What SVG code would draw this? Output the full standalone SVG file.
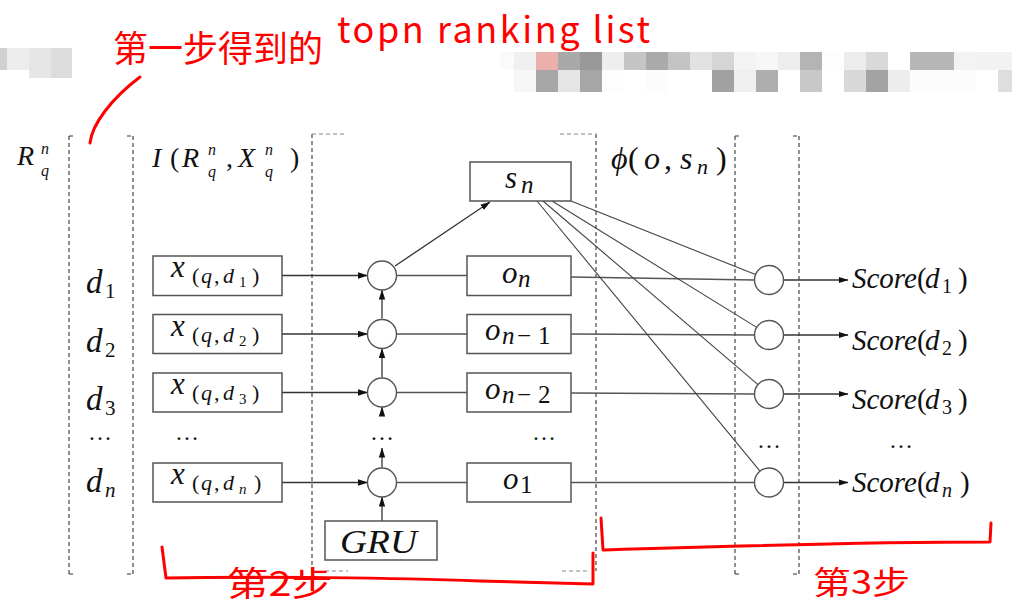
<svg xmlns="http://www.w3.org/2000/svg" width="1012" height="604" viewBox="0 0 1012 604">
<defs>
<marker id="ah" markerWidth="10" markerHeight="8" refX="9.5" refY="4" orient="auto" markerUnits="userSpaceOnUse"><path d="M0,0.8 L10,4 L0,7.2 z" fill="#111"/></marker>
<style>
.dash{stroke:#333;stroke-width:1.1;stroke-dasharray:4 3;fill:none}
.tick{stroke:#888;stroke-width:1.2;stroke-dasharray:4 3;fill:none}
.box{fill:#fff;stroke:#555;stroke-width:1.5}
.cir{fill:#fff;stroke:#555;stroke-width:1.4}
.ln{stroke:#555;stroke-width:1.4;fill:none}
.thin{stroke:#444;stroke-width:1.1;fill:none}
.arr{stroke:#333;stroke-width:1.3;fill:none;marker-end:url(#ah)}
.mi{font-family:"Liberation Serif","DejaVu Serif",serif;font-style:italic;fill:#111}
.mr{font-family:"Liberation Serif","DejaVu Serif",serif;font-style:normal;fill:#111}
.up{font-style:normal}
.red{stroke:#f00;stroke-width:3;fill:none;stroke-linecap:round;stroke-linejoin:round}
.hand{font-family:"Noto Sans CJK SC","Noto Sans",sans-serif;fill:#f00}
</style>
</defs>
<rect width="1012" height="604" fill="#fff"/>

<g id="mosaic">
<rect x="0" y="48" width="7" height="22" fill="#d0d0d0"/>
<rect x="7" y="48" width="22" height="22" fill="#ededed"/>
<rect x="29" y="48" width="22" height="30" fill="#e6e6e6"/>
<rect x="51" y="48" width="21" height="30" fill="#dcdcdc"/>
<rect x="500" y="52" width="14" height="18" fill="#fafafa"/>
<rect x="514" y="52" width="22" height="18" fill="#f0f0f0"/>
<rect x="536" y="52" width="22" height="18" fill="#ecb0ac"/>
<rect x="558" y="52" width="22" height="18" fill="#a9a9a9"/>
<rect x="580" y="52" width="22" height="18" fill="#999999"/>
<rect x="602" y="52" width="22" height="18" fill="#eeeeee"/>
<rect x="624" y="52" width="22" height="18" fill="#c5c5c5"/>
<rect x="646" y="52" width="22" height="18" fill="#aaaaaa"/>
<rect x="668" y="52" width="22" height="18" fill="#c4c4c4"/>
<rect x="690" y="52" width="22" height="18" fill="#e2e2e2"/>
<rect x="712" y="52" width="22" height="18" fill="#d5d5d5"/>
<rect x="734" y="52" width="22" height="18" fill="#f3f3f3"/>
<rect x="756" y="52" width="22" height="18" fill="#f7f7f7"/>
<rect x="778" y="52" width="22" height="18" fill="#eeeeee"/>
<rect x="800" y="52" width="22" height="18" fill="#b4b4b4"/>
<rect x="822" y="52" width="22" height="18" fill="#fdfdfd"/>
<rect x="844" y="52" width="22" height="18" fill="#ececec"/>
<rect x="866" y="52" width="22" height="18" fill="#d9d9d9"/>
<rect x="910" y="52" width="22" height="18" fill="#b7b7b7"/>
<rect x="932" y="52" width="22" height="18" fill="#b7b7b7"/>
<rect x="954" y="52" width="22" height="18" fill="#f3f3f3"/>
<rect x="976" y="52" width="22" height="18" fill="#f2f2f2"/>
<rect x="998" y="52" width="14" height="18" fill="#f2f2f2"/>
<rect x="514" y="70" width="22" height="22" fill="#f7f7f7"/>
<rect x="536" y="70" width="22" height="22" fill="#a6a6a6"/>
<rect x="558" y="70" width="22" height="22" fill="#e5e5e5"/>
<rect x="580" y="70" width="22" height="22" fill="#a6a6a6"/>
<rect x="602" y="70" width="22" height="22" fill="#fdfdfd"/>
<rect x="646" y="70" width="22" height="22" fill="#fcfcfc"/>
<rect x="712" y="70" width="22" height="22" fill="#a2a2a2"/>
<rect x="734" y="70" width="22" height="22" fill="#efefef"/>
<rect x="756" y="70" width="22" height="22" fill="#aeaeae"/>
<rect x="800" y="70" width="22" height="22" fill="#c8c8c8"/>
<rect x="844" y="70" width="22" height="22" fill="#d8d8d8"/>
<rect x="866" y="70" width="22" height="22" fill="#a3a3a3"/>
<rect x="888" y="70" width="22" height="22" fill="#ededed"/>
<rect x="910" y="70" width="66" height="22" fill="#fcfcfc"/>
<rect x="998" y="70" width="14" height="22" fill="#dedede"/>
</g>

<g id="frames">
<path class="dash" d="M69,136 V574 M133,136 V574 M735,136 V574 M799,136 V574 M312,134 V571 M596,134 V571"/>
<path class="dash" d="M69,136 H75 M127,136 H133 M69,574 H75 M127,574 H133 M735,136 H741 M793,136 H799 M735,574 H741 M793,574 H799"/>
<path class="tick" d="M312,134 H347 M560,134 H596 M325,571 H348 M562,571 H590"/>
</g>

<g id="headers">
<text id="label-R" class="mi" font-size="28" y="165"><tspan x="17">R</tspan><tspan x="41" y="154" font-size="16">n</tspan><tspan x="41" y="176" font-size="16">q</tspan></text>
<text id="label-I" class="mi" font-size="28" y="167"><tspan x="152">I</tspan><tspan x="170" class="up">(</tspan><tspan x="182">R</tspan><tspan x="208" y="155" font-size="16">n</tspan><tspan x="208" y="177" font-size="16">q</tspan><tspan x="226" y="167" class="up">,</tspan><tspan x="238">X</tspan><tspan x="265" y="155" font-size="16">n</tspan><tspan x="265" y="177" font-size="16">q</tspan><tspan x="290" y="167" class="up">)</tspan></text>
<text id="label-phi" class="mi" font-size="32" y="169"><tspan x="611">ϕ</tspan><tspan x="628" class="up">(</tspan><tspan x="644">o</tspan><tspan x="664" class="up">,</tspan><tspan x="680">s</tspan><tspan x="697" y="174" font-size="22">n</tspan><tspan x="716" y="169" class="up">)</tspan></text>
</g>

<g id="doc-labels">
<text id="d1" class="mi" font-size="33" y="293"><tspan x="86">d</tspan><tspan x="105" y="298" font-size="21" class="up">1</tspan></text>
<text id="d2" class="mi" font-size="33" y="352"><tspan x="86">d</tspan><tspan x="105" y="357" font-size="21" class="up">2</tspan></text>
<text id="d3" class="mi" font-size="33" y="410"><tspan x="86">d</tspan><tspan x="105" y="415" font-size="21" class="up">3</tspan></text>
<text class="mr" x="88" y="440" font-size="24">…</text>
<text id="dn" class="mi" font-size="33" y="492"><tspan x="86">d</tspan><tspan x="105" y="497" font-size="21">n</tspan></text>
</g>

<g id="connectors">
<line class="arr" x1="282" y1="275.5" x2="367.5" y2="275.5"/>
<line class="arr" x1="282" y1="334" x2="367.5" y2="334"/>
<line class="arr" x1="282" y1="392.5" x2="367.5" y2="392.5"/>
<line class="arr" x1="282" y1="482.5" x2="367.5" y2="482.5"/>
<line class="arr" x1="382" y1="318.5" x2="382" y2="290"/>
<line class="arr" x1="382" y1="377.5" x2="382" y2="348.5"/>
<line class="arr" x1="382" y1="415" x2="382" y2="407"/>
<line class="arr" x1="382" y1="467.5" x2="382" y2="448"/>
<line class="arr" x1="382" y1="521" x2="382" y2="497"/>
<line class="arr" x1="395" y1="266" x2="490" y2="202"/>
<line class="ln" x1="396.5" y1="275.5" x2="467" y2="275.5"/>
<line class="ln" x1="396.5" y1="334" x2="467" y2="334"/>
<line class="ln" x1="396.5" y1="392.5" x2="467" y2="392.5"/>
<line class="ln" x1="396.5" y1="482.5" x2="467" y2="482.5"/>
<line class="ln" x1="571" y1="277" x2="754.5" y2="280"/>
<line class="ln" x1="571" y1="334" x2="754.5" y2="335"/>
<line class="ln" x1="571" y1="393" x2="754.5" y2="394"/>
<line class="ln" x1="571" y1="482.5" x2="754.5" y2="482.5"/>
<line class="thin" x1="571" y1="201" x2="755.5" y2="274.6"/>
<line class="thin" x1="552" y1="201" x2="756.7" y2="327.4"/>
<line class="thin" x1="543" y1="201" x2="758" y2="384.6"/>
<line class="thin" x1="537" y1="201" x2="759.8" y2="470.8"/>
<line class="arr" x1="783.5" y1="280" x2="848" y2="280"/>
<line class="arr" x1="783.5" y1="335" x2="848" y2="335"/>
<line class="arr" x1="783.5" y1="394" x2="848" y2="394"/>
<line class="arr" x1="783.5" y1="482.5" x2="848" y2="482.5"/>
</g>

<g id="x-boxes">
<g id="x1"><rect class="box" x="153" y="256" width="129" height="39.5"/>
<text class="mi" font-size="22" y="283"><tspan x="171" y="277" font-size="31">x</tspan><tspan x="192" y="283" class="up">(</tspan><tspan x="201">q</tspan><tspan x="214" class="up">,</tspan><tspan x="223">d</tspan><tspan x="239" y="287" font-size="15" class="up">1</tspan><tspan x="252" y="283" class="up">)</tspan></text></g>
<g id="x2"><rect class="box" x="153" y="314.5" width="129" height="39"/>
<text class="mi" font-size="22" y="341.5"><tspan x="171" y="335.5" font-size="31">x</tspan><tspan x="192" y="341.5" class="up">(</tspan><tspan x="201">q</tspan><tspan x="214" class="up">,</tspan><tspan x="223">d</tspan><tspan x="239" y="345.5" font-size="15" class="up">2</tspan><tspan x="252" y="341.5" class="up">)</tspan></text></g>
<g id="x3"><rect class="box" x="153" y="373" width="129" height="39"/>
<text class="mi" font-size="22" y="400"><tspan x="171" y="394" font-size="31">x</tspan><tspan x="192" y="400" class="up">(</tspan><tspan x="201">q</tspan><tspan x="214" class="up">,</tspan><tspan x="223">d</tspan><tspan x="239" y="404" font-size="15" class="up">3</tspan><tspan x="252" y="400" class="up">)</tspan></text></g>
<text class="mr" x="175" y="440" font-size="24">…</text>
<g id="xn"><rect class="box" x="153" y="463" width="129" height="39"/>
<text class="mi" font-size="22" y="490"><tspan x="171" y="484" font-size="31">x</tspan><tspan x="192" y="490" class="up">(</tspan><tspan x="201">q</tspan><tspan x="214" class="up">,</tspan><tspan x="223">d</tspan><tspan x="239" y="494" font-size="15">n</tspan><tspan x="254" y="490" class="up">)</tspan></text></g>
</g>

<g id="gru-cells">
<circle id="c1" class="cir" cx="382" cy="275.5" r="14.5"/>
<circle id="c2" class="cir" cx="382" cy="334" r="14.5"/>
<circle id="c3" class="cir" cx="382" cy="392.5" r="14.5"/>
<text class="mr" x="370" y="440" font-size="24">…</text>
<circle id="cn" class="cir" cx="382" cy="482.5" r="14.5"/>
<g id="gru"><rect class="box" x="325" y="521" width="112" height="39"/>
<text class="mi" x="340" y="553" font-size="34" textLength="77" lengthAdjust="spacingAndGlyphs">GRU</text></g>
</g>

<g id="sn"><rect class="box" x="470" y="162" width="101" height="39"/>
<text class="mi" font-size="31" y="188"><tspan x="505">s</tspan><tspan x="521" y="193" font-size="25">n</tspan></text></g>

<g id="o-boxes">
<g id="on"><rect class="box" x="467" y="256" width="104" height="39.5"/>
<text class="mi" font-size="31" y="283"><tspan x="502">o</tspan><tspan x="518" y="287" font-size="25">n</tspan></text></g>
<g id="on1"><rect class="box" x="467" y="314.5" width="104" height="39"/>
<text class="mi" font-size="31" y="340"><tspan x="485">o</tspan><tspan x="502" y="344" font-size="25">n</tspan><tspan x="517" font-size="25" class="up">−</tspan><tspan x="538" font-size="25" class="up">1</tspan></text></g>
<g id="on2"><rect class="box" x="467" y="373" width="104" height="39"/>
<text class="mi" font-size="31" y="398.5"><tspan x="485">o</tspan><tspan x="502" y="402.5" font-size="25">n</tspan><tspan x="517" font-size="25" class="up">−</tspan><tspan x="538" font-size="25" class="up">2</tspan></text></g>
<text class="mr" x="532" y="440" font-size="24">…</text>
<g id="o1"><rect class="box" x="467" y="463" width="104" height="39"/>
<text class="mi" font-size="31" y="489"><tspan x="503">o</tspan><tspan x="520" y="493" font-size="25" class="up">1</tspan></text></g>
</g>

<g id="score-cells">
<circle id="r1" class="cir" cx="769" cy="280" r="14.5"/>
<circle id="r2" class="cir" cx="769" cy="335" r="14.5"/>
<circle id="r3" class="cir" cx="769" cy="394" r="14.5"/>
<text class="mr" x="757" y="448" font-size="24">…</text>
<circle id="rn" class="cir" cx="769" cy="482.5" r="14.5"/>
</g>

<g id="scores">
<text id="s1" class="mi" font-size="29" y="288"><tspan x="852">Score</tspan><tspan x="917" class="up">(</tspan><tspan x="925">d</tspan><tspan x="942" y="293" font-size="20" class="up">1</tspan><tspan x="958" y="288" class="up">)</tspan></text>
<text id="s2" class="mi" font-size="29" y="350"><tspan x="852">Score</tspan><tspan x="917" class="up">(</tspan><tspan x="925">d</tspan><tspan x="942" y="355" font-size="20" class="up">2</tspan><tspan x="958" y="350" class="up">)</tspan></text>
<text id="s3" class="mi" font-size="29" y="409"><tspan x="852">Score</tspan><tspan x="917" class="up">(</tspan><tspan x="925">d</tspan><tspan x="942" y="414" font-size="20" class="up">3</tspan><tspan x="958" y="409" class="up">)</tspan></text>
<text class="mr" x="889" y="448" font-size="24">…</text>
<text id="sN" class="mi" font-size="29" y="492"><tspan x="852">Score</tspan><tspan x="917" class="up">(</tspan><tspan x="925">d</tspan><tspan x="942" y="497" font-size="20">n</tspan><tspan x="960" y="492" class="up">)</tspan></text>
</g>

<g id="annotations">
<text class="hand" x="113" y="62" font-size="36" textLength="210" lengthAdjust="spacingAndGlyphs">第一步得到的</text>
<text class="hand" x="337" y="43" font-size="36" textLength="313" lengthAdjust="spacing">topn ranking list</text>
<path class="red" d="M90,143 C92,124 112,98 140,77"/>
<path class="red" d="M162,547 L166,578 C260,576 400,578 480,581 L593,584 L593,553"/>
<text class="hand" x="227" y="596" font-size="34" textLength="106" lengthAdjust="spacingAndGlyphs">第2步</text>
<path class="red" d="M601,518 L603,550 C700,547 850,542 990,542 L991,523"/>
<text class="hand" x="813" y="594" font-size="32" textLength="97" lengthAdjust="spacingAndGlyphs">第3步</text>
</g>
</svg>
